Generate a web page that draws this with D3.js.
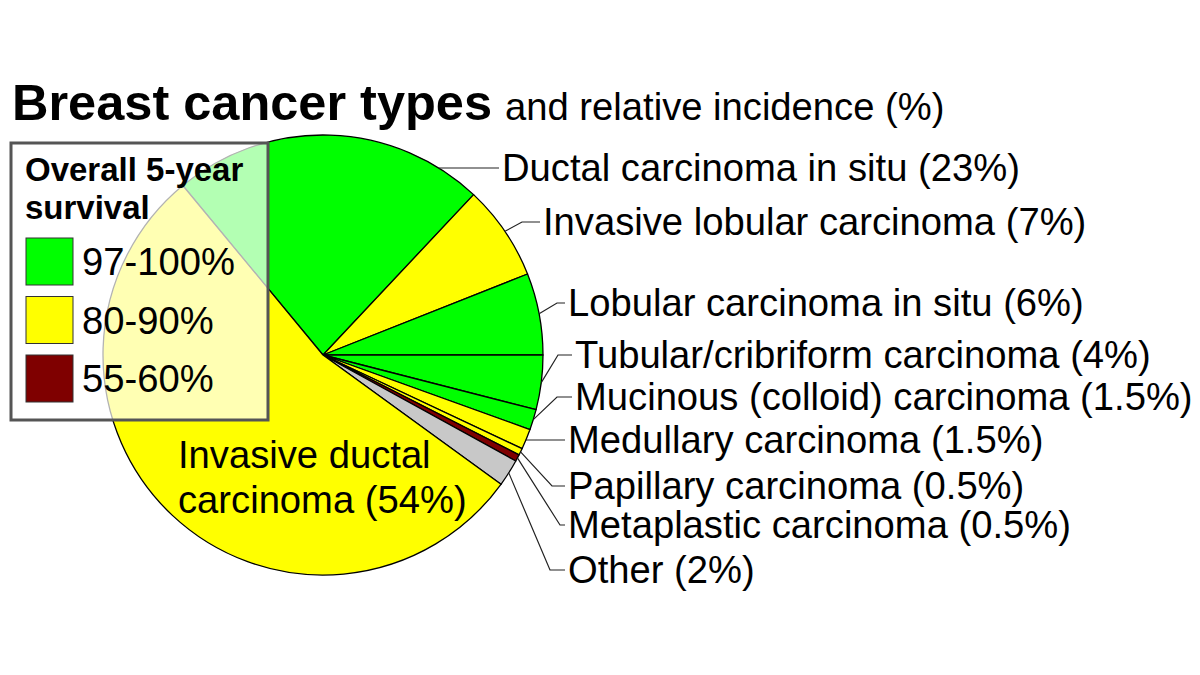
<!DOCTYPE html>
<html>
<head>
<meta charset="utf-8">
<script src="https://cdn.jsdelivr.net/npm/d3@7"></script>
<style>
  body { margin: 0; background: #fff; }
  svg { font-family: "Liberation Sans", Arial, sans-serif; }
</style>
</head>
<body>
<div id="root"></div>
<script>
// data
const types = ['Ductal carcinoma in situ', 'Invasive lobular carcinoma', 'Lobular carcinoma in situ',
  'Tubular/cribriform carcinoma', 'Mucinous (colloid) carcinoma', 'Medullary carcinoma',
  'Papillary carcinoma', 'Metaplastic carcinoma', 'Other', 'Invasive ductal carcinoma'];
const incidence = [23, 7, 6, 4, 1.5, 1.5, 0.5, 0.5, 2, 54];
const survival = ['97-100%', '80-90%', '97-100%', '97-100%', '97-100%', '80-90%', '80-90%', '55-60%', 'unknown', '80-90%'];
const survivalGroups = ['97-100%', '80-90%', '55-60%'];
const groupColors = ['#00ff00', '#ffff00', '#7f0000'];

// label layout (outside labels, same order as types, last one is inside the pie)
const labelX = [502, 543, 568, 575, 575, 568, 568, 568, 568];
const labelY = [168, 222, 303, 355, 397, 440, 486, 525, 570];
const elbowX = [null, 522, 557, 558, 557, null, 552, 560, 550];

const w = 1200, h = 675;
const cx = 323, cy = 355, r = 220;
const fs = 38.2;

const color = d3.scaleOrdinal().domain(survivalGroups).range(groupColors).unknown('#c8c8c8');

const svg = d3.select('#root').append('svg')
  .attr('width', w)
  .attr('height', h);

// titolo
const title = svg.append('text')
  .attr('x', 12)
  .attr('y', 120);
title.append('tspan')
  .attr('font-weight', 'bold')
  .attr('font-size', 50.5)
  .text('Breast cancer types');
title.append('tspan')
  .attr('font-size', fs)
  .attr('dx', 13)
  .text('and relative incidence (%)');

// torta
const start = -39.6 * Math.PI / 180;
const pie = d3.pie().sort(null).value(d => d.v).startAngle(start).endAngle(start + 2 * Math.PI);
const data = types.map((t, i) => ({ name: t, v: incidence[i], s: survival[i] }));
const arcs = pie(data);
const arc = d3.arc().innerRadius(0).outerRadius(r);

const g = svg.append('g').attr('transform', `translate(${cx}, ${cy})`);
g.selectAll('path')
  .data(arcs)
  .enter()
  .append('path')
  .attr('d', arc)
  .attr('fill', d => color(d.data.s))
  .attr('stroke', '#000')
  .attr('stroke-width', 1.3)
  .attr('stroke-linejoin', 'round');

// etichette esterne
const line = d3.line();
arcs.slice(0, 9).forEach((a, i) => {
  const ly = labelY[i];
  let edge;
  if (i === 0) {
    const dy = ly - cy;
    edge = [cx + Math.sqrt(r * r - dy * dy), ly];
  } else {
    const m = (a.startAngle + a.endAngle) / 2;
    edge = [cx + r * Math.sin(m), cy - r * Math.cos(m)];
  }
  const ex = elbowX[i] == null ? edge[0] : elbowX[i];
  svg.append('path')
    .attr('d', line([edge, [ex, ly], [labelX[i] - 3, ly]]))
    .attr('fill', 'none')
    .attr('stroke', '#222')
    .attr('stroke-width', 1.2);
  svg.append('text')
    .attr('x', labelX[i])
    .attr('y', ly)
    .attr('dy', '0.35em')
    .attr('font-size', fs)
    .text(`${a.data.name} (${a.data.v}%)`);
});

// etichetta interna
const idc = arcs[9].data;
const inner = svg.append('text')
  .attr('font-size', fs);
inner.append('tspan').attr('x', 178).attr('y', 455).attr('dy', '0.35em').text('Invasive ductal');
inner.append('tspan').attr('x', 178).attr('y', 500).attr('dy', '0.35em').text(`carcinoma (${idc.v}%)`);

// legenda
const lg = svg.append('g');
lg.append('rect')
  .attr('x', 11)
  .attr('y', 143)
  .attr('width', 257)
  .attr('height', 277)
  .attr('fill', '#fff')
  .attr('fill-opacity', 0.7)
  .attr('stroke', '#555')
  .attr('stroke-width', 3);
lg.append('text')
  .attr('x', 25).attr('y', 181)
  .attr('font-size', 33).attr('font-weight', 'bold')
  .text('Overall 5-year');
lg.append('text')
  .attr('x', 25).attr('y', 219)
  .attr('font-size', 33).attr('font-weight', 'bold')
  .text('survival');
survivalGroups.forEach((s, i) => {
  const y0 = 238 + i * 58.5;
  lg.append('rect')
    .attr('x', 26).attr('y', y0)
    .attr('width', 47).attr('height', 47)
    .attr('fill', color(s))
    .attr('stroke', '#333')
    .attr('stroke-width', 1);
  lg.append('text')
    .attr('x', 82).attr('y', y0 + 24)
    .attr('dy', '0.35em')
    .attr('font-size', fs)
    .text(s);
});
</script>
</body>
</html>
